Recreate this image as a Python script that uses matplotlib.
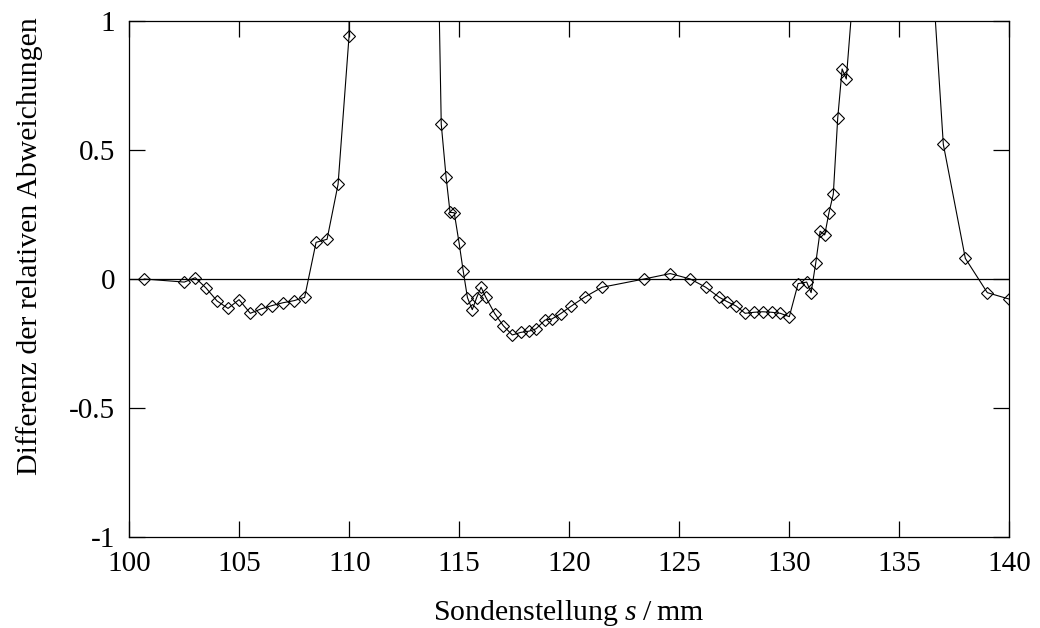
import matplotlib
matplotlib.use('Agg')
import matplotlib.pyplot as plt

# probe position s in mm and difference of the relative deviations
position = [100.68, 102.5, 103.0, 103.49, 103.99, 104.49, 104.99, 105.5, 105.99, 106.49,
            106.99, 107.49, 107.97, 108.49, 108.99, 109.49, 109.99, 110.5, 111.5, 112.5,
            113.5, 114.0, 114.18, 114.4, 114.58, 114.77, 114.99, 115.18, 115.37, 115.59,
            115.79, 115.99, 116.2, 116.61, 117.0, 117.41, 117.79, 118.18, 118.49, 118.9,
            119.21, 119.61, 120.09, 120.7, 121.49, 123.4, 124.59, 125.5, 126.2, 126.8,
            127.18, 127.59, 127.99, 128.4, 128.79, 129.2, 129.59, 130.0, 130.4, 130.79,
            130.99, 131.2, 131.4, 131.61, 131.8, 132.0, 132.2, 132.4, 132.59, 133.0,
            134.0, 135.0, 136.0, 137.0, 138.0, 139.0, 140.0]
difference = [0.0, -0.012, 0.005, -0.035, -0.085, -0.114, -0.08, -0.133, -0.116, -0.103,
              -0.092, -0.084, -0.071, 0.142, 0.154, 0.367, 0.942, 15.0, 20.0, 18.0,
              6.0, 1.45, 0.6, 0.395, 0.258, 0.257, 0.14, 0.03, -0.072, -0.119,
              -0.072, -0.032, -0.07, -0.134, -0.181, -0.217, -0.207, -0.202, -0.193, -0.159,
              -0.155, -0.134, -0.105, -0.07, -0.032, 0.0, 0.021, 0.0, -0.032, -0.07,
              -0.088, -0.105, -0.133, -0.129, -0.127, -0.129, -0.133, -0.146, -0.018, -0.012,
              -0.053, 0.061, 0.185, 0.171, 0.256, 0.329, 0.623, 0.814, 0.775, 1.22,
              2.6, 2.9, 1.85, 0.522, 0.08, -0.053, -0.078]

x_ticks = [100, 105, 110, 115, 120, 125, 130, 135, 140]
y_ticks = [-1, -0.5, 0, 0.5, 1]
y_tick_labels = ['-1', '-0.5', '0', '0.5', '1']

plt.rcParams['font.family'] = ['Liberation Serif', 'DejaVu Serif']
plt.rcParams['mathtext.fontset'] = 'custom'
plt.rcParams['mathtext.it'] = 'Liberation Serif:italic'
plt.rcParams['mathtext.rm'] = 'Liberation Serif'

fig = plt.figure(figsize=(10.4, 6.28), dpi=100)
ax = fig.add_axes([0.1243, 0.1449, 0.8462, 0.8217])

ax.axhline(0, color='black', linewidth=0.9, zorder=1)
ax.plot(position, difference, color='black', linewidth=0.8,
        marker='D', markersize=6.5, markerfacecolor='none',
        markeredgecolor='black', markeredgewidth=0.8, zorder=2)

ax.set_xlim(100, 140)
ax.set_ylim(-1, 1)
ax.set_xticks(x_ticks)
ax.set_yticks(y_ticks)
ax.set_yticklabels(y_tick_labels)
ax.tick_params(direction='in', length=11.5, width=0.9, labelsize=21,
               top=True, right=True, pad=10)
for spine in ax.spines.values():
    spine.set_linewidth(0.9)

ax.set_xlabel('Sondenstellung $s\\;/\\;$mm', fontsize=21.5)
ax.set_ylabel('Differenz der relativen Abweichungen', fontsize=21.5)
ax.xaxis.set_label_coords(0.5, -0.118)
ax.yaxis.set_label_coords(-0.098, 0.564)

fig.savefig('out.png', dpi=100)
